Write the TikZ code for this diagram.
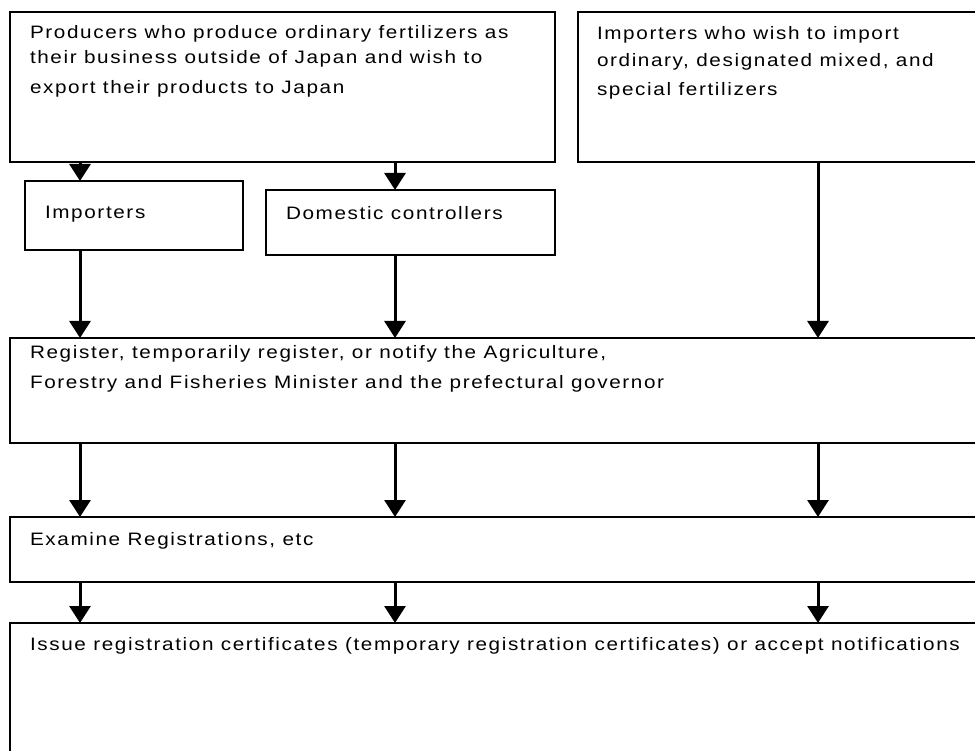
\documentclass[tikz,border=0pt]{standalone}
\usepackage{fontspec}
\setmainfont{Liberation Sans}[FakeStretch=1.15, LetterSpace=9]
\usetikzlibrary{arrows.meta}

\begin{document}
\begin{tikzpicture}[x=1pt, y=-1pt,
  box/.style={draw, line width=2pt, inner sep=0pt, outer sep=0pt, anchor=north west},
  txt/.style={inner sep=0pt, outer sep=0pt, anchor=north west, align=left,
              font=\fontsize{18}{25}\selectfont},
  arr/.style={line width=3pt, -{Triangle[width=21pt, length=17pt]}}]

  \useasboundingbox (0,0) rectangle (975,751);
  \clip (0,0) rectangle (975,751);

  % column positions of the vertical connectors
  \coordinate (c1) at (80,0);
  \coordinate (c2) at (395,0);
  \coordinate (c3) at (818,0);

  % top row: exporters abroad and direct importers
  \node[box, minimum width=545pt, minimum height=150pt] (prod) at (10,12) {};
  \node[txt] (prodtxt) at (30,25) {Producers who produce ordinary fertilizers as\\
    their business outside of Japan and wish to\\[5pt]
    export their products to Japan};

  \node[box, minimum width=420pt, minimum height=150pt] (imp) at (578,12) {};
  \node[txt] (imptxt) at (597,26) {Importers who wish to import\\[2pt]
    ordinary, designated mixed, and\\[4pt]
    special fertilizers};

  % intermediaries
  \node[box, line width=1.5pt, minimum width=218pt, minimum height=69pt] (impo) at (25,181) {};
  \node[txt] (impotxt) at (45,206) {Importers};

  \node[box, line width=1.5pt, minimum width=289pt, minimum height=65pt] (dom) at (266,190) {};
  \node[txt] (domtxt) at (286,206) {Domestic controllers};

  % procedure steps
  \node[box, line width=1.5pt, minimum width=980pt, minimum height=105pt] (reg) at (10,338) {};
  \node[txt] (regtxt) at (30,345) {Register, temporarily register, or notify the Agriculture,\\[5pt]
    Forestry and Fisheries Minister and the prefectural governor};

  \node[box, line width=1.5pt, minimum width=980pt, minimum height=65pt] (exam) at (10,517) {};
  \node[txt] (examtxt) at (30,532) {Examine Registrations, etc};

  \node[box, line width=1.5pt, minimum width=980pt, minimum height=160pt] (iss) at (10,623) {};
  \node[txt] (isstxt) at (30,637) {Issue registration certificates (temporary registration certificates) or accept notifications};

  % connectors
  \draw[arr] (prod.south -| c1) -- (impo.north -| c1);
  \draw[arr] (prod.south -| c2) -- (dom.north -| c2);

  \draw[arr] (impo.south -| c1) -- (reg.north -| c1);
  \draw[arr] (dom.south -| c2) -- (reg.north -| c2);
  \draw[arr] (imp.south -| c3) -- (reg.north -| c3);

  \draw[arr] (reg.south -| c1) -- (exam.north -| c1);
  \draw[arr] (reg.south -| c2) -- (exam.north -| c2);
  \draw[arr] (reg.south -| c3) -- (exam.north -| c3);

  \draw[arr] (exam.south -| c1) -- (iss.north -| c1);
  \draw[arr] (exam.south -| c2) -- (iss.north -| c2);
  \draw[arr] (exam.south -| c3) -- (iss.north -| c3);
\end{tikzpicture}
\end{document}
